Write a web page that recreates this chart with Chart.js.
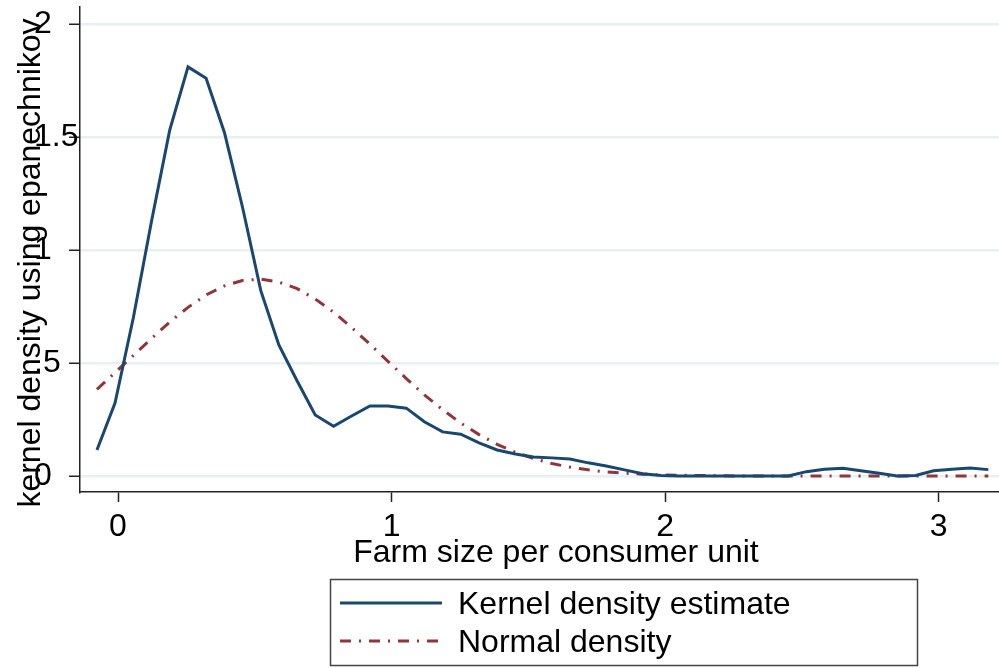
<!DOCTYPE html>
<html>
<head>
<meta charset="utf-8">
<script src="https://cdn.jsdelivr.net/npm/chart.js@4.4.1/dist/chart.umd.min.js"></script>
<style>
  html, body { margin: 0; padding: 0; background: #fff; }
  #wrap { width: 999px; height: 668px; }
</style>
</head>
<body>
<div id="wrap"><canvas id="density-chart"></canvas></div>
<script>
//-- Data//
const farmSize = [
    -0.077, -0.011, 0.056, 0.123, 0.189, 0.256, 0.322, 0.389, 0.455, 0.522,
    0.588, 0.655, 0.721, 0.788, 0.854, 0.921, 0.987, 1.054, 1.120, 1.187,
    1.253, 1.320, 1.386, 1.453, 1.519, 1.586, 1.652, 1.719, 1.785, 1.852,
    1.918, 1.985, 2.051, 2.118, 2.184, 2.251, 2.317, 2.384, 2.450, 2.517,
    2.583, 2.650, 2.716, 2.783, 2.849, 2.916, 2.982, 3.049, 3.115, 3.182
];
const kernelDensity = [
    0.115, 0.323, 0.70, 1.13, 1.53, 1.81, 1.76, 1.52, 1.19, 0.82,
    0.58, 0.42, 0.27, 0.22, 0.265, 0.31, 0.31, 0.30, 0.24, 0.195,
    0.185, 0.146, 0.115, 0.097, 0.084, 0.08, 0.075, 0.058, 0.044, 0.027,
    0.01, 0.002, 0, 0, 0, 0, 0, 0, 0, 0.019,
    0.03, 0.034, 0.023, 0.012, 0, 0.002, 0.023, 0.03, 0.035, 0.028
];
const normalDensity = [
    0.383, 0.457, 0.533, 0.609, 0.681, 0.746, 0.801, 0.841, 0.865, 0.871,
    0.858, 0.829, 0.783, 0.725, 0.657, 0.583, 0.507, 0.431, 0.359, 0.293,
    0.234, 0.183, 0.140, 0.105, 0.077, 0.055, 0.039, 0.027, 0.018, 0.012,
    0.008, 0.005, 0.003, 0.002, 0.001, 0, 0, 0, 0, 0,
    0, 0, 0, 0, 0, 0, 0, 0, 0, 0
];
const seriesLabels = ['Kernel density estimate', 'Normal density'];
const xTicks = [0, 1, 2, 3];
const xTickLabels = ['0', '1', '2', '3'];
const yTicks = [0, 0.5, 1, 1.5, 2];
const yTickLabels = ['0', '.5', '1', '1.5', '2'];
const xTitle = 'Farm size per consumer unit';
const yTitle = 'kernel density using epanechnikov';

//-- Styling//
const FONT = '"Liberation Sans", Arial, sans-serif';
const NAVY = '#1a476f';
const MAROON = '#90353b';
const DASH = [11, 8, 2, 8];

const toPoints = ys => ys.map((y, i) => ({ x: farmSize[i], y }));

//-- Titles and legend box//
const annotations = {
    id: 'annotations',
    afterDraw(chart) {
        const c = chart.ctx;
        c.save();
        c.font = `32px ${FONT}`;
        c.fillStyle = '#000';
        c.textBaseline = 'middle';
        c.textAlign = 'center';
        c.fillText(xTitle, 556, 553);
        c.save();
        c.translate(31, 263);
        c.rotate(-Math.PI / 2);
        c.fillText(yTitle, 0, 0);
        c.restore();

        // legend
        c.strokeStyle = '#444';
        c.lineWidth = 1.5;
        c.strokeRect(330.5, 579.5, 587, 86);
        const rows = [603, 641];
        chart.data.datasets.forEach((ds, i) => {
            c.beginPath();
            c.strokeStyle = ds.borderColor;
            c.lineWidth = ds.borderWidth;
            c.setLineDash(ds.borderDash || []);
            c.moveTo(340, rows[i]);
            c.lineTo(442, rows[i]);
            c.stroke();
            c.setLineDash([]);
            c.textAlign = 'left';
            c.fillText(ds.label, 458, rows[i] + 2);
        });
        c.restore();
    }
};

const ctx = document.getElementById('density-chart');
new Chart(ctx, {
    type: 'line',
    data: {
        datasets: [
            {
                label: seriesLabels[0],
                data: toPoints(kernelDensity),
                borderColor: NAVY,
                borderWidth: 3,
                pointRadius: 0,
                tension: 0,
                fill: false
            },
            {
                label: seriesLabels[1],
                data: toPoints(normalDensity),
                borderColor: MAROON,
                borderWidth: 3,
                borderDash: DASH,
                pointRadius: 0,
                tension: 0,
                fill: false
            }
        ]
    },
    options: {
        responsive: true,
        maintainAspectRatio: false,
        animation: false,
        layout: { padding: { left: 34, top: 7, right: 0, bottom: 116 } },
        plugins: {
            legend: { display: false },
            tooltip: { enabled: false }
        },
        scales: {
            x: {
                type: 'linear',
                min: -0.139,
                max: 3.221,
                afterBuildTicks: scale => {
                    scale.ticks = xTicks.map(value => ({ value }));
                },
                afterFit: scale => {
                    scale.height = 60;
                    scale.paddingLeft = 0;
                    scale.paddingRight = 0;
                },
                ticks: {
                    color: '#000',
                    padding: 6,
                    maxRotation: 0,
                    font: { family: FONT, size: 32 },
                    callback: v => xTickLabels[xTicks.indexOf(v)]
                },
                grid: {
                    drawOnChartArea: false,
                    drawTicks: true,
                    tickLength: 10,
                    tickColor: '#222',
                    tickWidth: 1.5
                },
                border: { display: true, color: '#222', width: 1.5 }
            },
            y: {
                min: -0.071,
                max: 2.075,
                afterBuildTicks: scale => {
                    scale.ticks = yTicks.map(value => ({ value }));
                },
                afterFit: scale => {
                    scale.width = 46;
                    scale.paddingTop = 0;
                    scale.paddingBottom = 0;
                },
                ticks: {
                    color: '#000',
                    crossAlign: 'far',
                    font: { family: FONT, size: 32 },
                    callback: v => yTickLabels[yTicks.indexOf(v)]
                },
                grid: {
                    color: '#e8f0f2',
                    lineWidth: 2.5,
                    drawTicks: true,
                    tickLength: 11,
                    tickColor: '#222',
                    tickWidth: 1.5
                },
                border: { display: true, color: '#222', width: 1.5 }
            }
        }
    },
    plugins: [annotations]
});
</script>
</body>
</html>
